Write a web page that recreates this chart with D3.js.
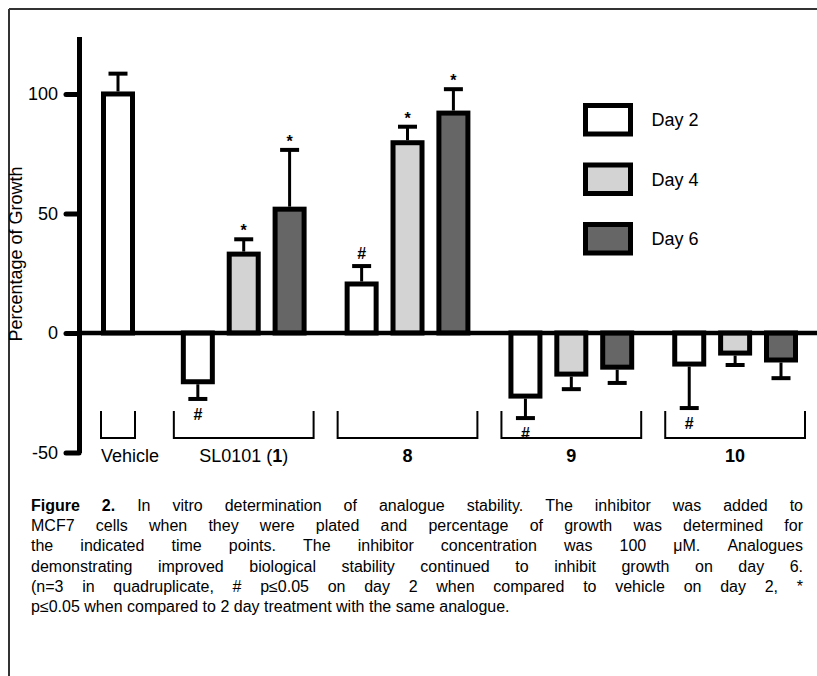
<!DOCTYPE html>
<html>
<head>
<meta charset="utf-8">
<script src="https://cdn.jsdelivr.net/npm/d3@7"></script>
<style>
  body { margin: 0; background: #fff; }
  svg { display: block; font-family: "Liberation Sans", Arial, sans-serif; }
</style>
</head>
<body>
<div id="chart"></div>
<script>
const w = 817;
const h = 676;

// groups and series (percentage of growth)
const groups = ["Vehicle", "SL0101 (1)", "8", "9", "10"];
const groupLabels = [
    [["Vehicle", false]],
    [["SL0101 (", false], ["1", true], [")", false]],
    [["8", true]],
    [["9", true]],
    [["10", true]]
];
const days = ["Day 2", "Day 4", "Day 6"];
const dayColors = ["#ffffff", "#d3d3d3", "#666666"];

const day2 = [100, -20.4, 20.5, -26.4, -13];
const day4 = [null, 33, 79.6, -17.2, -8.4];
const day6 = [null, 51.8, 92, -14.3, -11.3];

const day2Err = [8.5, 7.2, 7.5, 9.2, 18.4];
const day4Err = [null, 6.2, 6.7, 6.3, 5];
const day6Err = [null, 24.8, 10, 6.6, 7.6];

const day2Mark = ["", "#", "#", "#", "#"];
const day4Mark = ["", "*", "*", "", ""];
const day6Mark = ["", "*", "*", "", ""];

const yTicks = [-50, 0, 50, 100];

const captionLines = [
    "In vitro determination of analogue stability. The inhibitor was added to",
    "MCF7 cells when they were plated and percentage of growth was determined for",
    "the indicated time points. The inhibitor concentration was 100 \u03bcM. Analogues",
    "demonstrating improved biological stability continued to inhibit growth on day 6.",
    "(n=3 in quadruplicate, # p\u22640.05 on day 2 when compared to vehicle on day 2, *",
    "p\u22640.05 when compared to 2 day treatment with the same analogue."
];

let values = [day2, day4, day6];
let errs = [day2Err, day4Err, day6Err];
let marks = [day2Mark, day4Mark, day6Mark];

// lay bars out in slots: one slot per bar, wider gap between groups
let bars = [];
let pos = 0;
groups.forEach((g, gi) => {
    if (gi > 0) pos += (gi === 1 ? 1.74 : 1.57);
    let first = true;
    for (let di = 0; di < 3; di++) {
        if (values[di][gi] === null) continue;
        if (!first) pos += 1;
        first = false;
        bars.push({group: gi, day: di, pos: pos,
                   value: values[di][gi], err: errs[di][gi], mark: marks[di][gi]});
    }
});

let svg = d3.select("#chart").append("svg")
    .attr("width", w)
    .attr("height", h);

// frame
svg.append("line").attr("x1", 9).attr("x2", w).attr("y1", 9).attr("y2", 9)
    .attr("stroke", "#333").attr("stroke-width", 2);
svg.append("line").attr("x1", 9).attr("x2", 9).attr("y1", 9).attr("y2", h)
    .attr("stroke", "#333").attr("stroke-width", 2);

let xScale = d3.scaleLinear()
    .domain([0, d3.max(bars, d => d.pos)])
    .range([118, 781]);

let yScale = d3.scaleLinear()
    .domain([-50, 124])
    .range([452.5, 36.6]);

const barW = 29;

// bars
svg.append("g").selectAll("rect")
    .data(bars)
    .join("rect")
    .attr("x", d => xScale(d.pos) - barW / 2)
    .attr("y", d => yScale(Math.max(0, d.value)))
    .attr("width", barW)
    .attr("height", d => Math.abs(yScale(d.value) - yScale(0)))
    .attr("fill", d => dayColors[d.day])
    .attr("stroke", "#000")
    .attr("stroke-width", 5);

// error bars
let eb = svg.append("g");
bars.forEach(d => {
    let cx = xScale(d.pos);
    let sign = d.value >= 0 ? 1 : -1;
    let y0 = yScale(d.value) - sign * 2.5;
    let y1 = yScale(d.value + sign * d.err);
    eb.append("line").attr("x1", cx).attr("x2", cx).attr("y1", y0).attr("y2", y1)
        .attr("stroke", "#000").attr("stroke-width", 3);
    eb.append("line").attr("x1", cx - 9.5).attr("x2", cx + 9.5).attr("y1", y1).attr("y2", y1)
        .attr("stroke", "#000").attr("stroke-width", 4);
    if (d.mark) {
        let ty;
        if (sign < 0) ty = y1 + 21;
        else ty = d.mark === "#" ? y1 - 7 : y1 - 3;
        eb.append("text")
            .attr("x", cx)
            .attr("y", ty)
            .attr("text-anchor", "middle")
            .attr("font-size", 16)
            .attr("font-weight", "bold")
            .text(d.mark);
    }
});

// x axis line at zero
svg.append("line")
    .attr("x1", 79).attr("x2", w)
    .attr("y1", yScale(0)).attr("y2", yScale(0))
    .attr("stroke", "#000").attr("stroke-width", 4.5);

// y axis
let yAxis = svg.append("g")
    .attr("transform", "translate(79,0)")
    .call(d3.axisLeft(yScale).tickValues(yTicks).tickFormat(d => String(d))
        .tickSize(13).tickSizeOuter(0).tickPadding(8));
yAxis.select(".domain").attr("stroke-width", 5).attr("stroke", "#000");
yAxis.selectAll(".tick line").attr("stroke-width", 5).attr("stroke-linecap", "round");
yAxis.selectAll(".tick text").attr("font-size", 18).attr("font-family", "Liberation Sans, Arial, sans-serif")
    .attr("fill", "#000");

svg.append("text")
    .attr("transform", "translate(22,254) rotate(-90)")
    .attr("text-anchor", "middle")
    .attr("font-size", 18)
    .text("Percentage of Growth");

// group brackets and labels
let br = svg.append("g");
groups.forEach((g, gi) => {
    let gb = bars.filter(d => d.group === gi);
    let pad = gb.length > 1 ? 7 : 0;
    let x0 = xScale(gb[0].pos) - barW / 2 - 2.5 - pad;
    let x1 = xScale(gb[gb.length - 1].pos) + barW / 2 + 2.5 + pad;
    let yt = yScale(0) + 78, yb = yScale(0) + 105;
    br.append("path")
        .attr("d", `M${x0},${yt}V${yb}H${x1}V${yt}`)
        .attr("fill", "none").attr("stroke", "#000").attr("stroke-width", 2);
    let t = br.append("text")
        .attr("x", gb.length > 1 ? (x0 + x1) / 2 : x0)
        .attr("y", yScale(0) + 129)
        .attr("text-anchor", gb.length > 1 ? "middle" : "start")
        .attr("font-size", 18);
    groupLabels[gi].forEach(p => {
        t.append("tspan").attr("font-weight", p[1] ? "bold" : "normal").text(p[0]);
    });
});

// legend
let lg = svg.append("g").attr("transform", "translate(585.5,105.5)");
days.forEach((dname, i) => {
    lg.append("rect")
        .attr("x", 0).attr("y", i * 59.5)
        .attr("width", 45).attr("height", 28.5)
        .attr("fill", dayColors[i]).attr("stroke", "#000").attr("stroke-width", 5);
    lg.append("text")
        .attr("x", 66).attr("y", i * 59.5 + 14.5)
        .attr("dominant-baseline", "central")
        .attr("font-size", 18)
        .text(dname);
});

// caption, justified
const capLeft = 31, capRight = 803, capTop = 511, capStep = 20.2;
let cap = svg.append("g").attr("font-size", 16);
let measure = cap.append("text").attr("x", -1000).attr("y", -1000);
function wordWidth(str, bold) {
    measure.attr("font-weight", bold ? "bold" : "normal").text(str);
    return measure.node().getComputedTextLength();
}
captionLines.forEach((line, li) => {
    let words = line.split(" ").map(s => ({s: s, bold: false}));
    if (li === 0) words = [{s: "Figure", bold: true}, {s: "2.", bold: true}].concat(words);
    let widths = words.map(wd => wordWidth(wd.s, wd.bold));
    let total = d3.sum(widths);
    let last = li === captionLines.length - 1;
    let gap = last ? wordWidth("a b", false) - wordWidth("ab", false)
                   : (capRight - capLeft - total) / (words.length - 1);
    let x = capLeft;
    words.forEach((wd, i) => {
        cap.append("text")
            .attr("x", x)
            .attr("y", capTop + li * capStep)
            .attr("font-weight", wd.bold ? "bold" : "normal")
            .text(wd.s);
        x += widths[i] + gap;
    });
});
measure.remove();
</script>
</body>
</html>
